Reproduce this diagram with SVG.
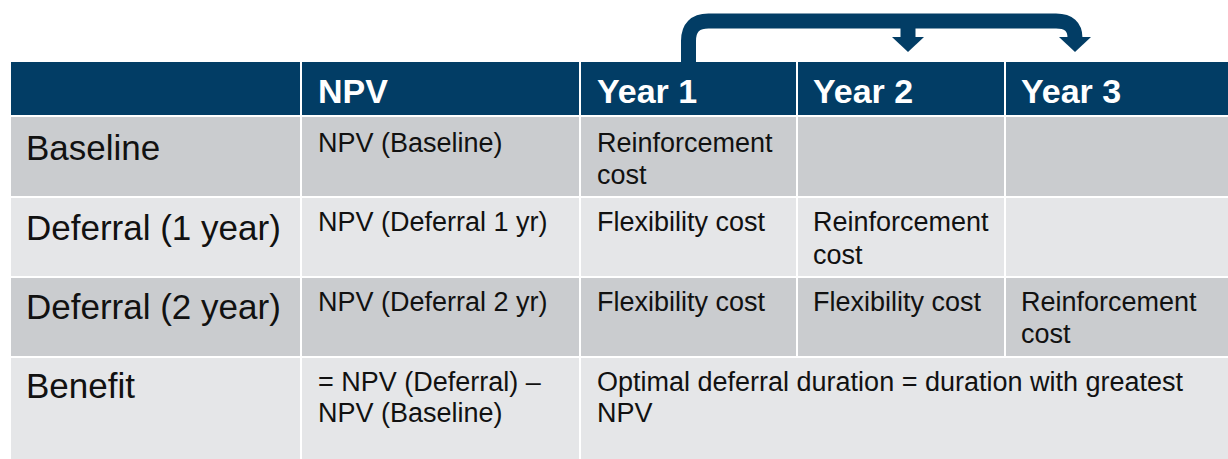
<svg xmlns="http://www.w3.org/2000/svg" width="1228" height="459" viewBox="0 0 1228 459">
<style>
.hd{fill:#023d65}
.dk{fill:#cacccf}
.lt{fill:#e5e6e8}
.ht{font-family:"Liberation Sans",Arial,sans-serif;font-weight:bold;font-size:34px;fill:#ffffff}
.rl{font-family:"Liberation Sans",Arial,sans-serif;font-size:35px;fill:#111111}
.ct{font-family:"Liberation Sans",Arial,sans-serif;font-size:27px;fill:#111111}
.arr{fill:none;stroke:#023d65;stroke-width:15}
.ah{fill:#023d65}
</style>
<rect width="1228" height="459" fill="#ffffff"/>
<g id="header">
<rect class="hd" x="11" y="62" width="289" height="53"/>
<rect class="hd" x="302" y="62" width="277" height="53"/>
<rect class="hd" x="581" y="62" width="215" height="53"/>
<rect class="hd" x="798" y="62" width="206" height="53"/>
<rect class="hd" x="1006" y="62" width="222" height="53"/>
<text class="ht" x="318" y="103">NPV</text>
<text class="ht" x="597" y="103">Year 1</text>
<text class="ht" x="813" y="103">Year 2</text>
<text class="ht" x="1021" y="103">Year 3</text>
</g>
<g id="row-baseline">
<rect class="dk" x="11" y="117" width="289" height="79"/>
<rect class="dk" x="302" y="117" width="277" height="79"/>
<rect class="dk" x="581" y="117" width="215" height="79"/>
<rect class="dk" x="798" y="117" width="206" height="79"/>
<rect class="dk" x="1006" y="117" width="222" height="79"/>
<text class="rl" x="26" y="160">Baseline</text>
<text class="ct" x="318" y="152">NPV (Baseline)</text>
<text class="ct" x="597" y="152">Reinforcement</text>
<text class="ct" x="597" y="184">cost</text>
</g>
<g id="row-deferral1">
<rect class="lt" x="11" y="198" width="289" height="78"/>
<rect class="lt" x="302" y="198" width="277" height="78"/>
<rect class="lt" x="581" y="198" width="215" height="78"/>
<rect class="lt" x="798" y="198" width="206" height="78"/>
<rect class="lt" x="1006" y="198" width="222" height="78"/>
<text class="rl" x="26" y="240">Deferral (1 year)</text>
<text class="ct" x="318" y="231">NPV (Deferral 1 yr)</text>
<text class="ct" x="597" y="231">Flexibility cost</text>
<text class="ct" x="813" y="231">Reinforcement</text>
<text class="ct" x="813" y="264">cost</text>
</g>
<g id="row-deferral2">
<rect class="dk" x="11" y="278" width="289" height="78"/>
<rect class="dk" x="302" y="278" width="277" height="78"/>
<rect class="dk" x="581" y="278" width="215" height="78"/>
<rect class="dk" x="798" y="278" width="206" height="78"/>
<rect class="dk" x="1006" y="278" width="222" height="78"/>
<text class="rl" x="26" y="319">Deferral (2 year)</text>
<text class="ct" x="318" y="311">NPV (Deferral 2 yr)</text>
<text class="ct" x="597" y="311">Flexibility cost</text>
<text class="ct" x="813" y="311">Flexibility cost</text>
<text class="ct" x="1021" y="311">Reinforcement</text>
<text class="ct" x="1021" y="343">cost</text>
</g>
<g id="row-benefit">
<rect class="lt" x="11" y="358" width="289" height="101"/>
<rect class="lt" x="302" y="358" width="277" height="101"/>
<rect class="lt" x="581" y="358" width="647" height="101"/>
<text class="rl" x="26" y="398">Benefit</text>
<text class="ct" x="318" y="391">= NPV (Deferral) –</text>
<text class="ct" x="318" y="422">NPV (Baseline)</text>
<text class="ct" x="597" y="391">Optimal deferral duration = duration with greatest</text>
<text class="ct" x="597" y="422">NPV</text>
</g>
<g id="connectors">
<path class="arr" d="M 688.5 62 V 41 Q 688.5 21 708.5 21 H 1056 Q 1075 21 1075 38"/>
<path class="arr" d="M 908 21 V 38"/>
<polygon class="ah" points="892,37 924,37 908,52"/>
<polygon class="ah" points="1059,37 1091,37 1075,52"/>
</g>
</svg>
